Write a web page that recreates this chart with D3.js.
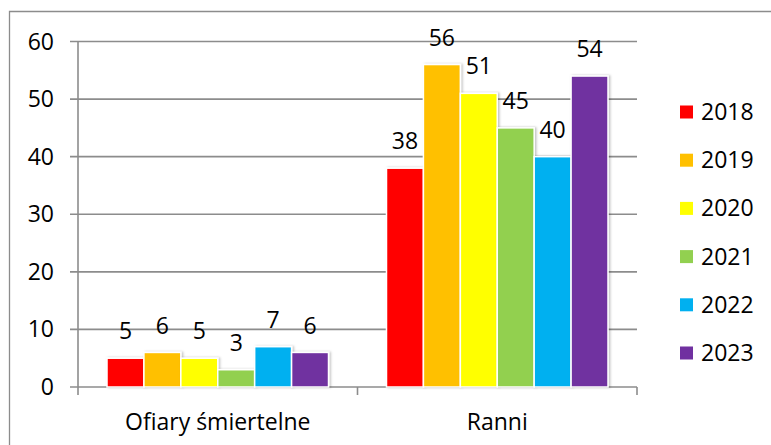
<!DOCTYPE html>
<html><head><meta charset="utf-8">
<script src="https://cdn.jsdelivr.net/npm/d3@7"></script>
<style>body{margin:0;background:#fff}svg{display:block}text{font-family:"Open Sans",Lato,sans-serif;fill:#000}</style>
</head><body><svg id="c" width="771" height="445"></svg>
<script>
const categories = ["Ofiary śmiertelne", "Ranni"];
const years = ["2018", "2019", "2020", "2021", "2022", "2023"];
const colors = ["#ff0000", "#ffc000", "#ffff00", "#92d050", "#00b0f0", "#7030a0"];
const values2018 = [5, 38];
const values2019 = [6, 56];
const values2020 = [5, 51];
const values2021 = [3, 45];
const values2022 = [7, 40];
const values2023 = [6, 54];
const series = [values2018, values2019, values2020, values2021, values2022, values2023];
const yTicks = [0, 10, 20, 30, 40, 50, 60];

(function () {
const svg = d3.select("#c");
const pL = 78, pR = 637, pT = 41.5, pB = 387;
const fs = 23;

// outer border
svg.append("path").attr("d", "M9.5,445 V11.5 H771").attr("fill", "none").attr("stroke", "#8c8c8c").attr("stroke-width", 1.3);

const y = d3.scaleLinear().domain([0, 60]).range([pB, pT]);
const x0 = d3.scaleBand().domain(categories).range([pL, pR]).paddingInner(0).paddingOuter(0);
const x1 = d3.scaleBand().domain(years).range([29, x0.bandwidth() - 29]).padding(0);

// gridlines
svg.append("g").selectAll("line").data(yTicks).join("line")
  .attr("x1", 70).attr("x2", pR).attr("y1", d => y(d)).attr("y2", d => y(d))
  .attr("stroke", "#8c8c8c").attr("stroke-width", 1.6);

// y axis line
svg.append("line").attr("x1", pL).attr("x2", pL).attr("y1", pT).attr("y2", pB + 8)
  .attr("stroke", "#8c8c8c").attr("stroke-width", 1.6);
// category ticks
svg.append("g").selectAll("line").data([pL + x0.bandwidth(), pR]).join("line")
  .attr("x1", d => d).attr("x2", d => d).attr("y1", pB).attr("y2", pB + 8)
  .attr("stroke", "#8c8c8c").attr("stroke-width", 1.6);

// y labels
svg.append("g").selectAll("text").data(yTicks).join("text")
  .attr("x", 54).attr("y", d => y(d)).attr("dy", "0.35em").attr("text-anchor", "end")
  .attr("font-size", fs).text(d => d);

// shadow filter
const defs = svg.append("defs");
const f = defs.append("filter").attr("id", "sh").attr("x", "-20%").attr("y", "-20%").attr("width", "140%").attr("height", "140%");
f.append("feDropShadow").attr("dx", 1.5).attr("dy", 0).attr("stdDeviation", 1).attr("flood-color", "#000").attr("flood-opacity", 0.25);

// bars
const bars = [];
series.forEach((vals, si) => vals.forEach((v, ci) => bars.push({si, ci, v})));
svg.append("g").selectAll("rect").data(bars).join("rect")
  .attr("x", d => x0(categories[d.ci]) + x1(years[d.si]))
  .attr("y", d => y(d.v))
  .attr("width", x1.bandwidth())
  .attr("height", d => pB - y(d.v))
  .attr("fill", d => colors[d.si])
  .attr("stroke", "#fff").attr("stroke-width", 1.5)
  .attr("filter", "url(#sh)");

// value labels
svg.append("g").selectAll("text").data(bars).join("text")
  .attr("x", d => x0(categories[d.ci]) + x1(years[d.si]) + x1.bandwidth() / 2)
  .attr("y", d => y(d.v) - 27).attr("dy", "0.35em").attr("text-anchor", "middle")
  .attr("font-size", fs).text(d => d.v);

// category labels
svg.append("g").selectAll("text").data(categories).join("text")
  .attr("x", d => x0(d) + x0.bandwidth() / 2).attr("y", 430)
  .attr("text-anchor", "middle").attr("font-size", fs).text(d => d);

// legend
const lg = svg.append("g").selectAll("g").data(years).join("g")
  .attr("transform", (d, i) => `translate(680,${112 + i * 48.2})`);
lg.append("rect").attr("x", 0).attr("y", -6.5).attr("width", 13).attr("height", 13).attr("fill", (d, i) => colors[i]);
lg.append("text").attr("x", 21).attr("y", 0).attr("dy", "0.35em").attr("font-size", fs).text(d => d);
})();
</script></body></html>
